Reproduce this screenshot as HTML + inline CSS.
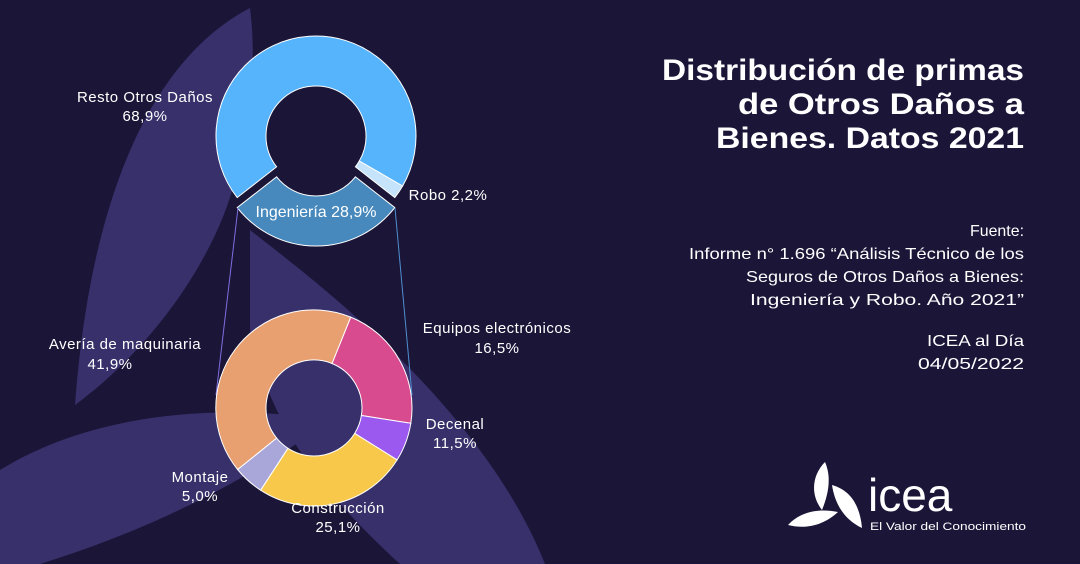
<!DOCTYPE html>
<html><head><meta charset="utf-8"><style>
html,body{margin:0;padding:0;background:#1b1538;}
svg{display:block}
text{font-family:"Liberation Sans",sans-serif;fill:#fff}
</style></head><body>
<svg width="1080" height="564" viewBox="0 0 1080 564" xmlns="http://www.w3.org/2000/svg">
<rect width="1080" height="564" fill="#1b1538"/>
<!-- background leaves -->
<path d="M250 8 C150 60 90 200 75 405 C150 350 215 260 235 180 C255 100 255 50 250 8Z" fill="#37306a"/>
<path d="M250 230 C300 270 480 400 545 564 L400 564 C330 500 270 430 250 330Z" fill="#37306a"/>
<path d="M0 470 C80 420 200 400 330 420 C250 480 150 530 40 564 L0 564Z" fill="#37306a"/>
<!-- top donut -->
<g transform="translate(316,136)" stroke="#fff" stroke-width="1">
<path d="M-78.8 61.6 A100 100 0 1 1 86.6 50 L43.3 25 A50 50 0 1 0 -39.4 30.8 Z" fill="#56b4fc"/>
<path d="M86.6 50 A100 100 0 0 1 78.8 61.6 L39.4 30.8 A50 50 0 0 0 43.3 25 Z" fill="#c5e4fb"/>
<g transform="translate(0,10)">
<path d="M78.8 61.6 A100 100 0 0 1 -78.8 61.6 L-39.4 30.8 A50 50 0 0 0 39.4 30.8 Z" fill="#4789bd"/>
</g>
</g>
<!-- connectors -->
<line x1="238" y1="208" x2="216" y2="395" stroke="#7d6fe0" stroke-width="1"/>
<line x1="395" y1="208" x2="412" y2="395" stroke="#4f8fd0" stroke-width="1"/>
<!-- bottom donut -->
<g transform="translate(314,408)" stroke="#fff" stroke-width="1">
<path d="M36.7 -90.9 A98 98 0 0 1 96.8 15.3 L47.4 7.5 A48 48 0 0 0 18 -44.5 Z" fill="#d94b8f"/>
<path d="M96.8 15.3 A98 98 0 0 1 83.1 51.9 L40.7 25.4 A48 48 0 0 0 47.4 7.5 Z" fill="#9b59f0"/>
<path d="M83.1 51.9 A98 98 0 0 1 -53.4 82.2 L-26.1 40.3 A48 48 0 0 0 40.7 25.4 Z" fill="#f8c84a"/>
<path d="M-53.4 82.2 A98 98 0 0 1 -76.4 61.5 L-37.4 30.1 A48 48 0 0 0 -26.1 40.3 Z" fill="#a9a6d9"/>
<path d="M-76.4 61.5 A98 98 0 0 1 36.7 -90.9 L18 -44.5 A48 48 0 0 0 -37.4 30.1 Z" fill="#e8a070"/>
</g>
<!-- labels -->
<g font-size="15" text-anchor="middle" letter-spacing="0.5">
<text x="145" y="102">Resto Otros Daños</text>
<text x="145" y="121">68,9%</text>
<text x="448" y="200">Robo  2,2%</text>
<text x="316" y="217" font-size="16" letter-spacing="0">Ingeniería 28,9%</text>
<text x="125" y="349">Avería de maquinaria</text>
<text x="110" y="369">41,9%</text>
<text x="497" y="333">Equipos electrónicos</text>
<text x="497" y="353">16,5%</text>
<text x="455" y="429">Decenal</text>
<text x="455" y="448">11,5%</text>
<text x="200" y="482">Montaje</text>
<text x="200" y="501">5,0%</text>
<text x="338" y="513">Construcción</text>
<text x="338" y="532">25,1%</text>
</g>
<g font-size="30" font-weight="bold">
<text x="662" y="80" textLength="362" lengthAdjust="spacingAndGlyphs">Distribución de primas</text>
<text x="738" y="114" textLength="286" lengthAdjust="spacingAndGlyphs">de Otros Daños a</text>
<text x="716" y="148" textLength="308" lengthAdjust="spacingAndGlyphs">Bienes. Datos 2021</text>
</g>
<g font-size="16">
<text x="970" y="236" textLength="54" lengthAdjust="spacingAndGlyphs">Fuente:</text>
<text x="689" y="259" textLength="335" lengthAdjust="spacingAndGlyphs">Informe n° 1.696 “Análisis Técnico de los</text>
<text x="746" y="282" textLength="278" lengthAdjust="spacingAndGlyphs">Seguros de Otros Daños a Bienes:</text>
<text x="750" y="305" textLength="274" lengthAdjust="spacingAndGlyphs">Ingeniería y Robo. Año 2021”</text>
<text x="927" y="346" textLength="97" lengthAdjust="spacingAndGlyphs">ICEA al Día</text>
<text x="918" y="369" textLength="106" lengthAdjust="spacingAndGlyphs">04/05/2022</text>
</g>
<!-- logo -->
<g fill="#fff">
<path d="M825 462 C812 475 810 495 822 510 C828 495 832 478 825 462Z"/>
<path d="M832 485 C850 490 860 505 862 528 C845 520 835 505 832 485Z"/>
<path d="M788 525 C800 512 818 508 838 512 C825 524 808 530 788 525Z"/>
</g>
<text x="868" y="511" font-size="46">icea</text>
<text x="870" y="530" font-size="11" textLength="156" lengthAdjust="spacingAndGlyphs">El Valor del Conocimiento</text>
</svg>
</body></html>
